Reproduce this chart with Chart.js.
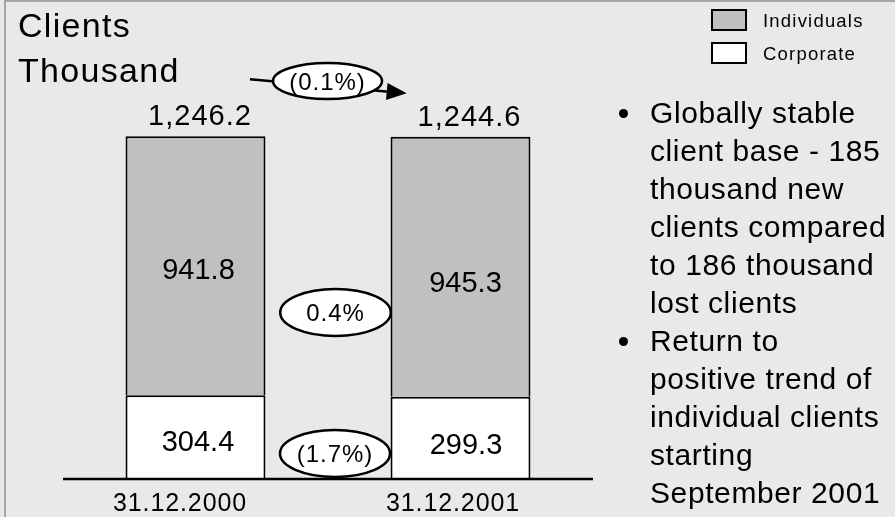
<!DOCTYPE html>
<html>
<head>
<meta charset="utf-8">
<script src="https://cdn.jsdelivr.net/npm/chart.js@4/dist/chart.umd.min.js"></script>
<style>
  html, body { margin: 0; padding: 0; background: #e9e9e9; }
  #wrap { position: relative; width: 895px; height: 517px; overflow: hidden; background: #e9e9e9; }
  #frame { position: absolute; left: 4px; top: 0; width: 960px; height: 600px;
           border-left: 2px solid #a6a6a6; border-top: 2px solid #a6a6a6; box-sizing: border-box; }
  #chart { position: absolute; left: 0; top: 0; }
  #notes { position: absolute; left: 650px; top: 94px; margin: 0; padding: 0; list-style: none;
           font: 30px "Liberation Sans", Arial, sans-serif; line-height: 38px; letter-spacing: 0.6px;
           color: #000; white-space: nowrap; }
  #notes li { position: relative; }
  #notes li::before { content: ""; position: absolute; left: -31px; top: 15px; width: 9px; height: 9px;
                      border-radius: 50%; background: #000; }
</style>
</head>
<body>
<div id="wrap">
  <div id="frame"></div>
  <canvas id="chart" width="895" height="517"></canvas>
  <ul id="notes">
    <li>Globally stable<br>client base - 185<br>thousand new<br>clients compared<br>to 186 thousand<br>lost clients</li>
    <li>Return to<br>positive trend of<br>individual clients<br>starting<br>September 2001</li>
  </ul>
</div>
<script>
// Client counts in thousands at year end
const categories = ['31.12.2000', '31.12.2001'];
const corporate = [304.4, 299.3];
const individuals = [941.8, 945.3];
const seriesNames = ['Individuals', 'Corporate'];
const titleLines = ['Clients', 'Thousand'];

const FONT = '"Liberation Sans", Arial, sans-serif';
const fmt1 = v => v.toLocaleString('en-US', { minimumFractionDigits: 1, maximumFractionDigits: 1 });
const pct = (a, b) => {
  const p = (b - a) / a * 100;
  const s = Math.abs(p).toFixed(1) + '%';
  return p < 0 ? '(' + s + ')' : s;
};
const totals = categories.map((_, i) => corporate[i] + individuals[i]);

// fine placement of the drawn texts (pixels)
const catLabelDx = [-15.5, -7.5];
const totalDx = [4.5, 9];
const indLabelOff = [[3, 13], [5, 25]];
const corpLabelOff = [[2.5, 14], [5.5, 16]];

function text(ctx, str, x, y, size, spacing, align) {
  ctx.save();
  ctx.font = size + 'px ' + FONT;
  if ('letterSpacing' in ctx) ctx.letterSpacing = spacing + 'px';
  ctx.textAlign = align || 'center';
  ctx.textBaseline = 'alphabetic';
  ctx.fillStyle = '#000';
  ctx.fillText(str, x, y);
  ctx.restore();
}

function bubble(ctx, cx, cy, rx, ry, str) {
  ctx.save();
  ctx.beginPath();
  ctx.ellipse(cx, cy, rx, ry, 0, 0, Math.PI * 2);
  ctx.fillStyle = '#fff';
  ctx.fill();
  ctx.lineWidth = 2.5;
  ctx.strokeStyle = '#000';
  ctx.stroke();
  ctx.restore();
  text(ctx, str, cx, cy + 8.5, 24, 1);
}

const decorations = {
  id: 'decorations',
  afterDatasetsDraw(chart) {
    const ctx = chart.ctx;
    const xs = chart.scales.x, ys = chart.scales.y;
    const area = chart.chartArea;
    const corpMeta = chart.getDatasetMeta(0);
    const indMeta = chart.getDatasetMeta(1);
    const y0 = ys.getPixelForValue(0);

    // axis baseline
    ctx.save();
    ctx.strokeStyle = '#000';
    ctx.lineWidth = 2.5;
    ctx.beginPath();
    ctx.moveTo(area.left, y0);
    ctx.lineTo(area.right, y0);
    ctx.stroke();
    ctx.restore();

    categories.forEach((c, i) => {
      const cx = xs.getPixelForValue(i);
      text(ctx, c, cx + catLabelDx[i], y0 + 32, 25, 0.9);

      const ind = indMeta.data[i], corp = corpMeta.data[i];
      text(ctx, fmt1(individuals[i]), ind.x + indLabelOff[i][0], (ind.y + ind.base) / 2 + indLabelOff[i][1], 29, 0);
      text(ctx, fmt1(corporate[i]), corp.x + corpLabelOff[i][0], (corp.y + corp.base) / 2 + corpLabelOff[i][1], 29, 0);

      const top = ys.getPixelForValue(totals[i]);
      text(ctx, fmt1(totals[i]), cx + totalDx[i], top - 11, 29, 1);
    });

    // change between the two dates
    const mid = (xs.getPixelForValue(0) + xs.getPixelForValue(1)) / 2;

    // total change arrow
    const ax0 = 250, ay0 = 79.3, ax1 = 406.7, ay1 = 93.3;
    const ang = Math.atan2(ay1 - ay0, ax1 - ax0);
    ctx.save();
    ctx.strokeStyle = '#000';
    ctx.lineWidth = 2.5;
    ctx.beginPath();
    ctx.moveTo(ax0, ay0);
    ctx.lineTo(ax1 - 18 * Math.cos(ang), ay1 - 18 * Math.sin(ang));
    ctx.stroke();
    ctx.translate(ax1, ay1);
    ctx.rotate(ang);
    ctx.beginPath();
    ctx.moveTo(0, 0);
    ctx.lineTo(-20, -8.5);
    ctx.lineTo(-20, 8.5);
    ctx.closePath();
    ctx.fillStyle = '#000';
    ctx.fill();
    ctx.restore();

    bubble(ctx, mid - 0.5, 81, 54.5, 18, pct(totals[0], totals[1]));
    bubble(ctx, mid + 7.5, 312.5, 55.3, 23.5, pct(individuals[0], individuals[1]));
    bubble(ctx, mid + 7, 453.5, 55, 23.5, pct(corporate[0], corporate[1]));

    // title
    text(ctx, titleLines[0], 18, 37, 34, 1.3, 'left');
    text(ctx, titleLines[1], 18, 82, 34, 1.3, 'left');

    // legend
    const legendItems = [
      { name: seriesNames[0], fill: chart.data.datasets[1].backgroundColor, y: 10 },
      { name: seriesNames[1], fill: chart.data.datasets[0].backgroundColor, y: 43 }
    ];
    legendItems.forEach(it => {
      ctx.save();
      ctx.fillStyle = it.fill;
      ctx.fillRect(712, it.y, 34, 20);
      ctx.lineWidth = 2;
      ctx.strokeStyle = '#000';
      ctx.strokeRect(712, it.y, 34, 20);
      ctx.restore();
      text(ctx, it.name, 763, it.y + 17, 18.5, 1.2, 'left');
    });
  }
};

new Chart(document.getElementById('chart'), {
  type: 'bar',
  data: {
    labels: categories,
    datasets: [
      { label: seriesNames[1], data: corporate, backgroundColor: '#ffffff', borderColor: '#000000',
        borderWidth: 2, categoryPercentage: 1, barPercentage: 0.528 },
      { label: seriesNames[0], data: individuals, backgroundColor: '#c0c0c0', borderColor: '#000000',
        borderWidth: 2, categoryPercentage: 1, barPercentage: 0.528 }
    ]
  },
  options: {
    responsive: false,
    animation: false,
    devicePixelRatio: 1,
    layout: { padding: { left: 63, right: 302, top: 39, bottom: 38 } },
    plugins: { legend: { display: false }, tooltip: { enabled: false }, title: { display: false } },
    scales: {
      x: { display: false, stacked: true },
      y: { display: false, stacked: true, min: 0, max: 1600 }
    }
  },
  plugins: [decorations]
});
</script>
</body>
</html>
